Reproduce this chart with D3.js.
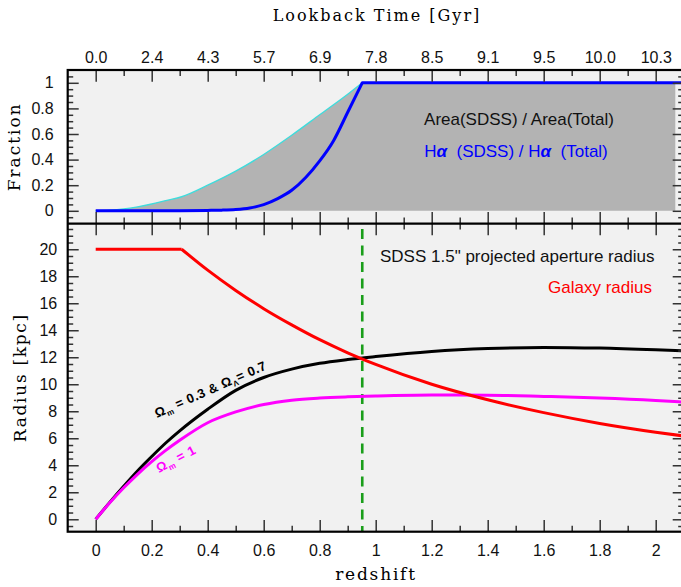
<!DOCTYPE html>
<html>
<head>
<meta charset="utf-8">
<script src="https://cdn.jsdelivr.net/npm/d3@7"></script>
<style>
body { margin: 0; background: #fff; }
svg text { font-family: "Liberation Sans", Arial, sans-serif; }
.serif { font-family: "DejaVu Serif", serif !important; }
</style>
</head>
<body>
<svg id="chart"></svg>
<script>
var width = 681;
var height = 587;

// redshift ticks and the lookback time printed above each one
var zTicks = [0, 0.2, 0.4, 0.6, 0.8, 1.0, 1.2, 1.4, 1.6, 1.8, 2.0];
var zMinor = [0.1, 0.3, 0.5, 0.7, 0.9, 1.1, 1.3, 1.5, 1.7, 1.9, 2.1];
var lookback = ["0.0", "2.4", "4.3", "5.7", "6.9", "7.8", "8.5", "9.1", "9.5", "10.0", "10.3"];

// top panel: fraction of the galaxy inside the fibre
var areaZ    = [0, 0.05, 0.1, 0.15, 0.2, 0.25, 0.307, 0.4, 0.5, 0.6, 0.7, 0.8, 0.9, 0.952];
var areaFrac = [0, 0.004, 0.014, 0.031, 0.053, 0.08, 0.11, 0.2, 0.31, 0.44, 0.59, 0.75, 0.91, 1];
var haZ      = [0, 0.1, 0.2, 0.3, 0.4, 0.45, 0.5, 0.55, 0.6, 0.65, 0.7, 0.75, 0.8, 0.85, 0.9, 0.952];
var haFrac   = [0, 0, 0.0005, 0.001, 0.003, 0.005, 0.01, 0.022, 0.048, 0.095, 0.16, 0.26, 0.39, 0.55, 0.77, 1];
var fullZ    = [0.952, 2.1];     // past the crossing both ratios stay at 1
var fillEnd  = 2.07;

// bottom panel: radius in kpc
var radZ     = [0, 0.05, 0.1, 0.15, 0.2, 0.25, 0.3, 0.4, 0.5, 0.6, 0.7, 0.8, 0.9, 1.0, 1.2, 1.4, 1.6, 1.8, 2.0, 2.1];
var apLambda = [0, 1.25, 2.45, 3.6, 4.65, 5.65, 6.55, 8.15, 9.55, 10.5, 11.12, 11.55, 11.83, 12.05, 12.42, 12.64, 12.73, 12.68, 12.55, 12.47];
var apEdS    = [0, 1.22, 2.33, 3.35, 4.27, 5.1, 5.85, 7.15, 7.95, 8.5, 8.82, 8.98, 9.07, 9.13, 9.2, 9.19, 9.1, 8.98, 8.8, 8.68];
var galFlatZ = [0, 0.307];
var galFlatR = [20, 20];
var galZ     = [0.307, 0.4, 0.5, 0.6, 0.7, 0.8, 0.9, 1.0, 1.2, 1.4, 1.6, 1.8, 2.0, 2.1];
var galR     = [20, 18.45, 16.95, 15.6, 14.4, 13.3, 12.33, 11.47, 10.0, 8.85, 7.9, 7.1, 6.45, 6.17];
var zCross   = 0.952;

var fracTicks = [0, 0.2, 0.4, 0.6, 0.8, 1];
var radTicks = [0, 2, 4, 6, 8, 10, 12, 14, 16, 18, 20];

function zip(a, b) { return a.map(function(d, i) { return [d, b[i]]; }); }

function draw() {
    var svg = d3.select("#chart").attr("width", width).attr("height", height);

    var pLeft = 67.7, pRight = 683.7, pTop = 70, pMid = 223.6, pBottom = 531.7;
    var x = d3.scaleLinear().domain([-0.1, 2.1]).range([pLeft, pRight]);
    var yTop = d3.scaleLinear().domain([-0.1, 1.1]).range([pMid, pTop]);
    var yBot = d3.scaleLinear().domain([-0.92, 21.9]).range([pBottom, pMid]);

    // plot background
    svg.append("rect").attr("x", pLeft).attr("y", pTop).attr("width", pRight - pLeft).attr("height", pBottom - pTop)
        .attr("fill", "#f1f1f1");

    // ---- top panel
    var lineTop = d3.line().x(function(d) { return x(d[0]); }).y(function(d) { return yTop(d[1]); });
    var areaPts = zip(areaZ, areaFrac);
    var fillPath = lineTop.curve(d3.curveMonotoneX)(areaPts)
        + "L" + x(fillEnd) + "," + yTop(1) + "L" + x(fillEnd) + "," + yTop(0) + "L" + x(0) + "," + yTop(0) + "Z";
    svg.append("path").attr("d", fillPath).attr("fill", "#b3b3b3");

    svg.append("path").attr("d", lineTop.curve(d3.curveMonotoneX)(areaPts))
        .attr("fill", "none").attr("stroke", "#3fdcdc").attr("stroke-width", 1.4);

    svg.append("path").attr("d", lineTop.curve(d3.curveMonotoneX)(zip(haZ, haFrac)))
        .attr("fill", "none").attr("stroke", "#0000ff").attr("stroke-width", 3).attr("stroke-linejoin", "round");
    svg.append("path").attr("d", lineTop.curve(d3.curveLinear)(zip(fullZ, [1, 1])))
        .attr("fill", "none").attr("stroke", "#0000ff").attr("stroke-width", 3).attr("stroke-linecap", "round");

    // ---- bottom panel
    var lineBot = d3.line().x(function(d) { return x(d[0]); }).y(function(d) { return yBot(d[1]); });

    svg.append("line").attr("x1", x(zCross)).attr("x2", x(zCross)).attr("y1", 229).attr("y2", pBottom)
        .attr("stroke", "#1a9e1a").attr("stroke-width", 2.6).attr("stroke-dasharray", "10,6.5");

    svg.append("path").attr("d", lineBot.curve(d3.curveMonotoneX)(zip(radZ, apLambda)))
        .attr("fill", "none").attr("stroke", "#000").attr("stroke-width", 3);
    svg.append("path").attr("d", lineBot.curve(d3.curveMonotoneX)(zip(radZ, apEdS)))
        .attr("fill", "none").attr("stroke", "#ff00ff").attr("stroke-width", 3);
    svg.append("path").attr("d", lineBot.curve(d3.curveLinear)(zip(galFlatZ, galFlatR)))
        .attr("fill", "none").attr("stroke", "#ff0000").attr("stroke-width", 3);
    svg.append("path").attr("d", lineBot.curve(d3.curveMonotoneX)(zip(galZ, galR)))
        .attr("fill", "none").attr("stroke", "#ff0000").attr("stroke-width", 3).attr("stroke-linejoin", "round");

    // ---- axes (ticks point inward, frame drawn separately)
    function styleAxis(g) {
        g.select(".domain").remove();
        g.selectAll(".tick line").attr("stroke", "#333").attr("stroke-width", 1.5);
        g.selectAll(".tick text").attr("fill", "#111").style("font-size", "16px");
    }
    function addAxis(axis, tx, ty) {
        svg.append("g").attr("transform", "translate(" + tx + "," + ty + ")").call(axis).call(styleAxis);
    }

    // x axes
    addAxis(d3.axisTop(x).tickValues(zTicks).tickSize(-11.7).tickPadding(7)
        .tickFormat(function(d, i) { return lookback[i]; }), 0, pTop);
    addAxis(d3.axisTop(x).tickValues(zMinor).tickSize(-6).tickFormat(""), 0, pTop);
    addAxis(d3.axisBottom(x).tickValues(zTicks).tickSize(-11.7).tickFormat(""), 0, pMid);
    addAxis(d3.axisBottom(x).tickValues(zMinor).tickSize(-6).tickFormat(""), 0, pMid);
    addAxis(d3.axisTop(x).tickValues(zTicks).tickSize(-11.7).tickFormat(""), 0, pMid);
    addAxis(d3.axisTop(x).tickValues(zMinor).tickSize(-6).tickFormat(""), 0, pMid);
    addAxis(d3.axisBottom(x).tickValues(zTicks).tickSize(-11.7).tickPadding(13)
        .tickFormat(d3.format("~g")), 0, pBottom);
    addAxis(d3.axisBottom(x).tickValues(zMinor).tickSize(-6).tickFormat(""), 0, pBottom);

    // y axes
    var fracMinor = d3.range(-0.05, 1.1, 0.05).filter(function(d) { return Math.abs(Math.round(d * 5) - d * 5) > 0.01; });
    var radMinor = d3.range(-0.5, 21.9, 0.5).filter(function(d) { return d % 2 !== 0; });
    addAxis(d3.axisLeft(yTop).tickValues(fracTicks).tickSize(-11).tickPadding(14)
        .tickFormat(d3.format("~g")), pLeft, 0);
    addAxis(d3.axisLeft(yTop).tickValues(fracMinor).tickSize(-5.5).tickFormat(""), pLeft, 0);
    addAxis(d3.axisRight(yTop).tickValues(fracTicks).tickSize(-11).tickFormat(""), pRight, 0);
    addAxis(d3.axisRight(yTop).tickValues(fracMinor).tickSize(-5.5).tickFormat(""), pRight, 0);
    addAxis(d3.axisLeft(yBot).tickValues(radTicks).tickSize(-11).tickPadding(10.5)
        .tickFormat(d3.format("~g")), pLeft, 0);
    addAxis(d3.axisLeft(yBot).tickValues(radMinor).tickSize(-5.5).tickFormat(""), pLeft, 0);
    addAxis(d3.axisRight(yBot).tickValues(radTicks).tickSize(-11).tickFormat(""), pRight, 0);
    addAxis(d3.axisRight(yBot).tickValues(radMinor).tickSize(-5.5).tickFormat(""), pRight, 0);

    // frame
    svg.append("rect").attr("x", pLeft).attr("y", pTop).attr("width", pRight - pLeft).attr("height", pBottom - pTop)
        .attr("fill", "none").attr("stroke", "#000").attr("stroke-width", 2.2);
    svg.append("line").attr("x1", pLeft).attr("x2", pRight).attr("y1", pMid).attr("y2", pMid)
        .attr("stroke", "#000").attr("stroke-width", 2.2);

    // axis titles
    svg.append("text").attr("class", "serif").attr("x", 377).attr("y", 21).attr("text-anchor", "middle")
        .style("font-size", "16px").style("letter-spacing", "2px").attr("fill", "#000").text("Lookback Time [Gyr]");
    svg.append("text").attr("class", "serif").attr("x", 376).attr("y", 580).attr("text-anchor", "middle")
        .style("font-size", "17px").style("letter-spacing", "1.8px").attr("fill", "#000").text("redshift");
    svg.append("text").attr("class", "serif").attr("transform", "translate(20," + (pTop + pMid) / 2 + ") rotate(-90)")
        .attr("text-anchor", "middle").style("font-size", "17px").style("letter-spacing", "2px").attr("fill", "#000")
        .text("Fraction");
    svg.append("text").attr("class", "serif").attr("transform", "translate(26," + (pMid + pBottom) / 2 + ") rotate(-90)")
        .attr("text-anchor", "middle").style("font-size", "17px").style("letter-spacing", "1.7px").attr("fill", "#000")
        .text("Radius [kpc]");

    // annotations
    svg.append("text").attr("x", 519).attr("y", 125).attr("text-anchor", "middle").style("font-size", "17px")
        .attr("fill", "#111").text("Area(SDSS) / Area(Total)");
    var ha = svg.append("text").attr("x", 516).attr("y", 157).attr("text-anchor", "middle").style("font-size", "17px")
        .style("white-space", "pre").attr("fill", "#0000ff");
    ha.append("tspan").text("H");
    ha.append("tspan").style("font-weight", "bold").style("font-style", "italic").text("α");
    ha.append("tspan").text("  (SDSS) / H");
    ha.append("tspan").style("font-weight", "bold").style("font-style", "italic").text("α");
    ha.append("tspan").text("  (Total)");

    svg.append("text").attr("x", 380).attr("y", 262).style("font-size", "17px").attr("fill", "#111")
        .text("SDSS 1.5\" projected aperture radius");
    svg.append("text").attr("x", 652).attr("y", 293).attr("text-anchor", "end").style("font-size", "17px")
        .attr("fill", "#ff0000").text("Galaxy radius");

    var lab1 = svg.append("text").attr("transform", "translate(157,418) rotate(-24)")
        .style("font-size", "13px").style("font-weight", "bold").style("letter-spacing", "0.5px")
        .style("white-space", "pre").attr("fill", "#000");
    lab1.append("tspan").text("Ω");
    lab1.append("tspan").attr("dy", 3).style("font-size", "8px").text("m");
    lab1.append("tspan").attr("dy", -3).text(" = 0.3 & Ω");
    lab1.append("tspan").attr("dy", 3).style("font-size", "8px").text("Λ");
    lab1.append("tspan").attr("dy", -3).text("= 0.7");

    var lab2 = svg.append("text").attr("transform", "translate(159,473) rotate(-28)")
        .style("font-size", "13px").style("font-weight", "bold").style("letter-spacing", "0.6px")
        .style("white-space", "pre").attr("fill", "#ff00ff");
    lab2.append("tspan").text("Ω");
    lab2.append("tspan").attr("dy", 3).style("font-size", "8px").text("m");
    lab2.append("tspan").attr("dy", -3).text(" = 1");
}

draw();
</script>
</body>
</html>
